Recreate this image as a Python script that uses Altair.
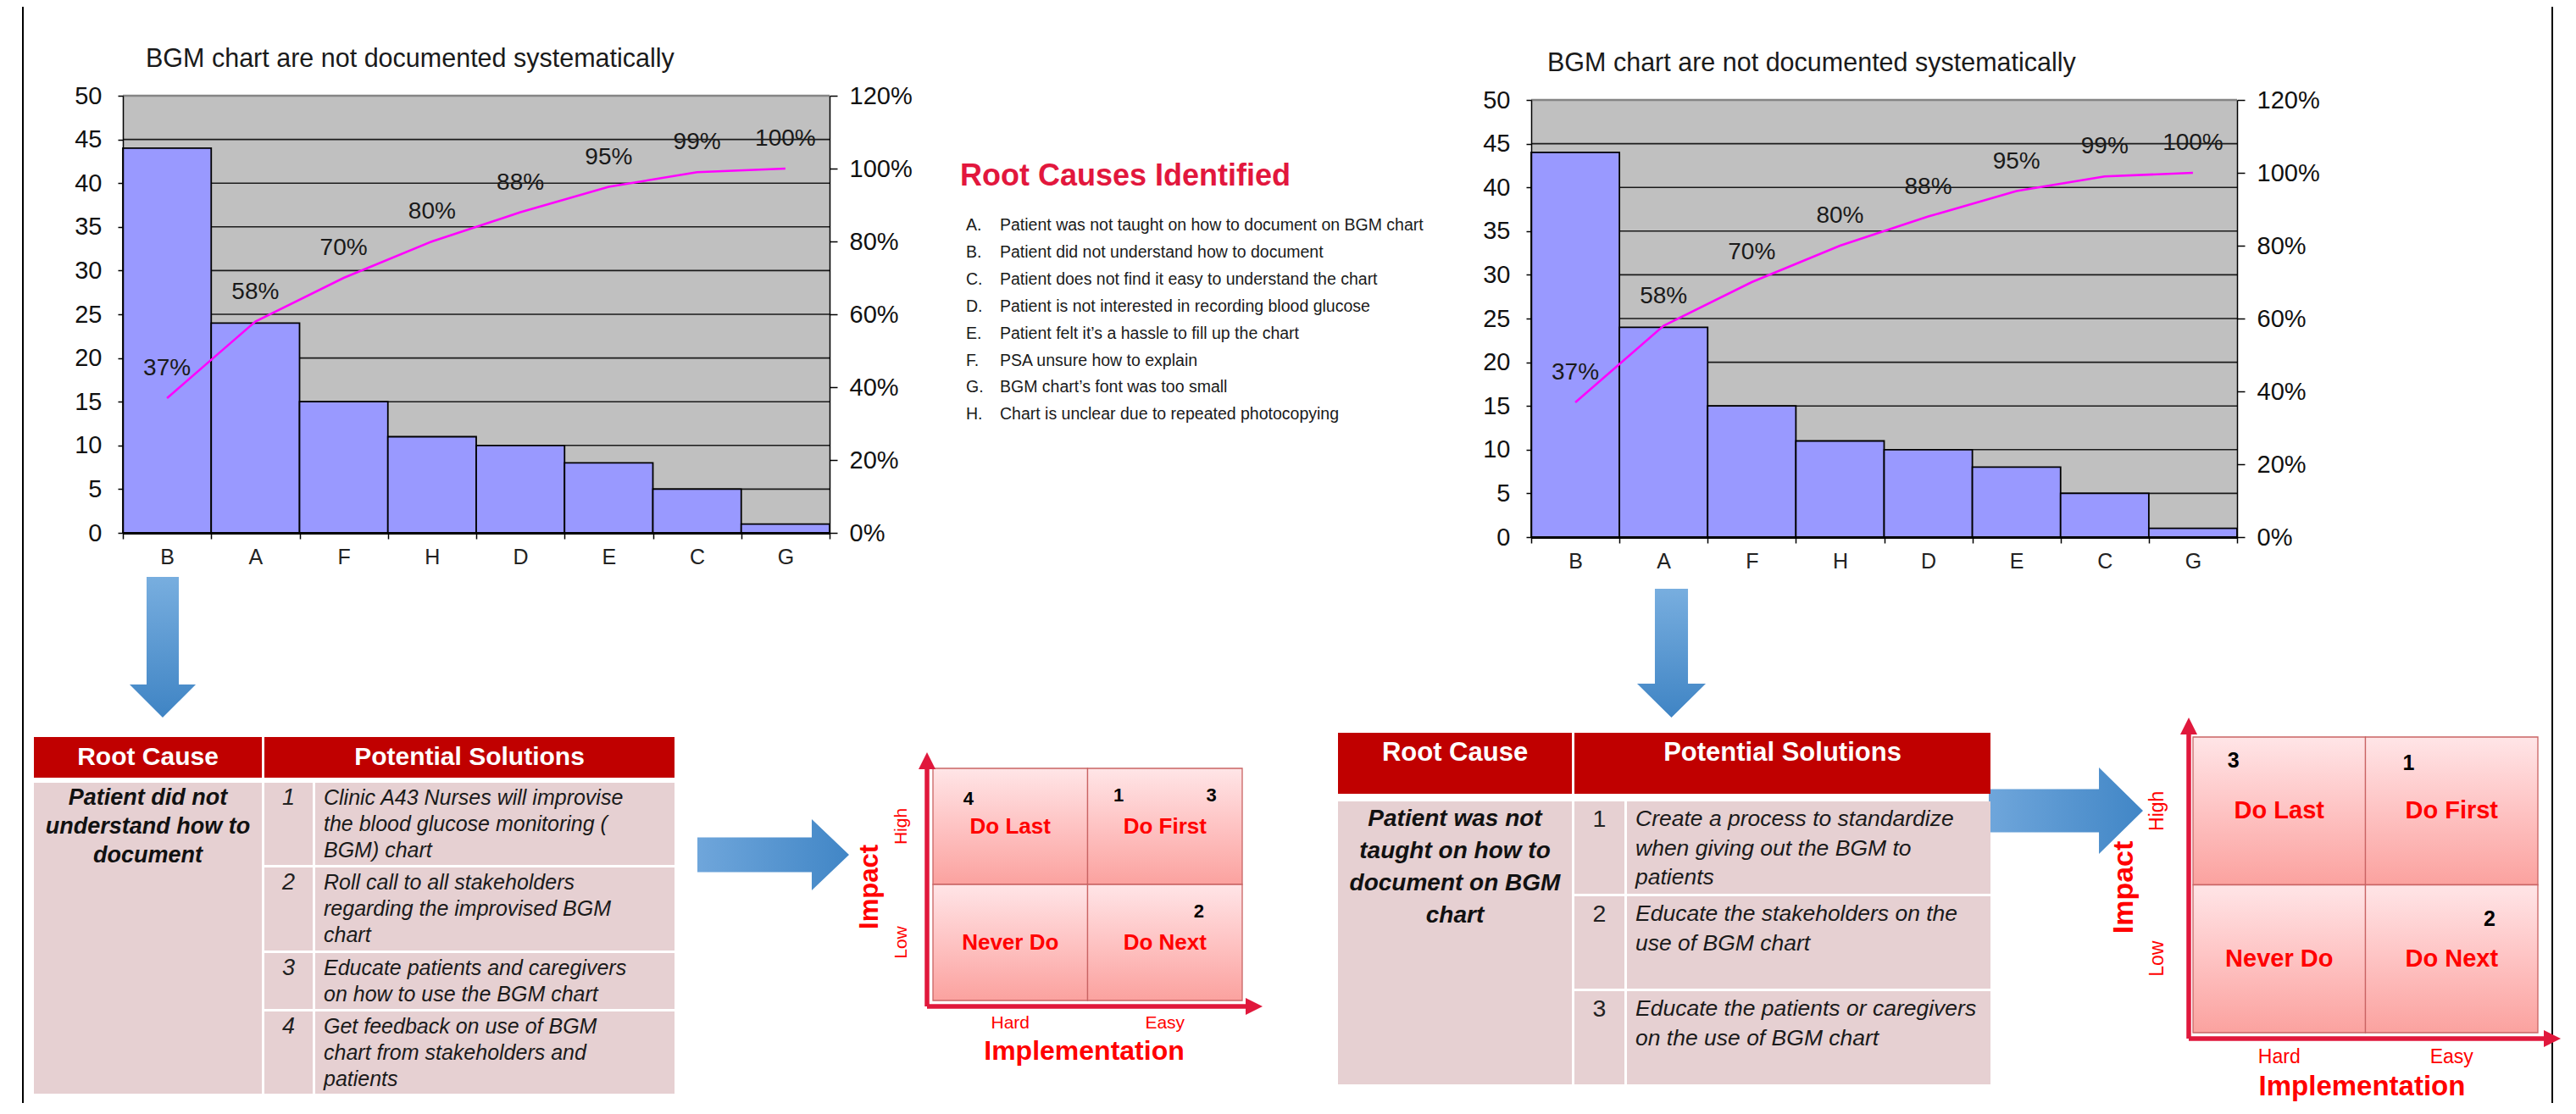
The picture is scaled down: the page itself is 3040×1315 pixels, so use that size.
import altair as alt
import pandas as pd

# ---------------- data ----------------
categories = ["B", "A", "F", "H", "D", "E", "C", "G"]
counts = [44, 24, 15, 11, 10, 8, 5, 1]
cumulative = [0.37, 0.58, 0.70, 0.80, 0.88, 0.95, 0.99, 1.00]
cumulative_labels = ["37%", "58%", "70%", "80%", "88%", "95%", "99%", "100%"]
count_ticks = [0, 5, 10, 15, 20, 25, 30, 35, 40, 45, 50]
percent_ticks = [0, 0.2, 0.4, 0.6, 0.8, 1.0, 1.2]
pareto_title = "BGM chart are not documented systematically"

causes_title = "Root Causes Identified"
cause_letters = ["A.", "B.", "C.", "D.", "E.", "F.", "G.", "H."]
cause_texts = [
    "Patient was not taught on how to document on BGM chart",
    "Patient did not understand how to document",
    "Patient does not find it easy to understand the chart",
    "Patient is not interested in recording blood glucose",
    "Patient felt it\u2019s a hassle to fill up the chart",
    "PSA unsure how to explain",
    "BGM chart\u2019s font was too small",
    "Chart is unclear due to repeated photocopying",
]

table_headers = ["Root Cause", "Potential Solutions"]
left_cause = ["Patient did not", "understand how to", "document"]
left_solutions = [
    ["Clinic A43 Nurses will improvise", "the blood glucose monitoring (", "BGM) chart"],
    ["Roll call to all stakeholders", "regarding the improvised BGM", "chart"],
    ["Educate patients and caregivers", "on how to use the BGM chart"],
    ["Get feedback on use of BGM", "chart from stakeholders and", "patients"],
]
right_cause = ["Patient was not", "taught on how to", "document on BGM", "chart"]
right_solutions = [
    ["Create a process to standardize", "when giving out the BGM to", "patients"],
    ["Educate the stakeholders on the", "use of BGM chart"],
    ["Educate the patients or caregivers", "on the use of BGM chart"],
]

quadrants = ["Do Last", "Do First", "Never Do", "Do Next"]
impact_levels = ["High", "Low"]
effort_levels = ["Hard", "Easy"]
impact_title = "Impact"
effort_title = "Implementation"
left_items = ["4", "1", "3", "2"]
left_item_quadrant = ["Do Last", "Do First", "Do First", "Do Next"]
right_items = ["3", "1", "2"]
right_item_quadrant = ["Do Last", "Do First", "Do Next"]

# ---------------- layout (page pixels) ----------------
W, H, M = 3024, 1294, 8
SANS = "Liberation Sans, Arial, sans-serif"
RED = "#FF0000"
AXRED = "#E0183C"

XS = alt.Scale(domain=[M, M + W], range=[0, W], nice=False, zero=False)
YS = alt.Scale(domain=[M, M + H], range=[0, H], nice=False, zero=False)


def X(f):
    return alt.X(f, type="quantitative", scale=XS, axis=None)


def Y(f):
    return alt.Y(f, type="quantitative", scale=YS, axis=None)


def texts(rows, **kw):
    df = pd.DataFrame(rows, columns=["x", "y", "t"])
    return alt.Chart(df).mark_text(**kw).encode(x=X("x"), y=Y("y"), text="t:N")


def rects(rows, **kw):
    df = pd.DataFrame(rows, columns=["x0", "x1", "y0", "y1"])
    return alt.Chart(df).mark_rect(**kw).encode(x=X("x0"), x2="x1", y=Y("y0"), y2="y1")


def rules(rows, **kw):
    df = pd.DataFrame(rows, columns=["x0", "x1", "y0", "y1"])
    return alt.Chart(df).mark_rule(**kw).encode(x=X("x0"), x2="x1", y=Y("y0"), y2="y1")


def symbol(x, y, path, size, **kw):
    df = pd.DataFrame({"x": [x], "y": [y]})
    return alt.Chart(df).mark_point(shape=path, size=size, filled=True, opacity=1, **kw).encode(
        x=X("x"), y=Y("y"))


def grad(c0, c1, vertical):
    return alt.LinearGradient(
        gradient="linear",
        stops=[alt.GradientStop(color=c0, offset=0), alt.GradientStop(color=c1, offset=1)],
        x1=0, y1=0, x2=0 if vertical else 1, y2=1 if vertical else 0)


def down_arrow(x0, x1, hx0, hx1, top, head, tip):
    cx = (hx0 + hx1) / 2
    cy = (top + tip) / 2
    u = (tip - top) / 2
    s = (x1 - x0) / 2 / u
    h = (hx1 - hx0) / 2 / u
    k = (head - cy) / u
    path = (f"M{-s:.3f},-1L{s:.3f},-1L{s:.3f},{k:.3f}L{h:.3f},{k:.3f}L0,1"
            f"L{-h:.3f},{k:.3f}L{-s:.3f},{k:.3f}Z")
    return symbol(cx, cy, path, (2 * u) ** 2, fill=grad("#78AEDF", "#3F84C4", True))


def right_arrow(left, head, tip, sy0, sy1, hy0, hy1):
    cx = (left + tip) / 2
    cy = (hy0 + hy1) / 2
    u = (tip - left) / 2
    s = (sy1 - sy0) / 2 / u
    h = (hy1 - hy0) / 2 / u
    k = (head - cx) / u
    path = (f"M-1,{-s:.3f}L{k:.3f},{-s:.3f}L{k:.3f},{-h:.3f}L1,0L{k:.3f},{h:.3f}"
            f"L{k:.3f},{s:.3f}L-1,{s:.3f}Z")
    return symbol(cx, cy, path, (2 * u) ** 2, fill=grad("#6FA6DB", "#4186C6", False))


def pareto(x0, x1, y0, y1, tx, ty):
    df = pd.DataFrame({"cat": categories, "n": counts, "cum": cumulative, "lab": cumulative_labels})
    xsc = alt.Scale(domain=categories, range=[x0 - M, x1 - M], paddingInner=0, paddingOuter=0)
    ysn = alt.Scale(domain=[0, 50], range=[y1 - M, y0 - M], nice=False, zero=False)
    ysp = alt.Scale(domain=[0, 1.2], range=[y1 - M, y0 - M], nice=False, zero=False)
    out = [rects([(x0, x1, y0, y1)], color="#C0C0C0")]
    gdf = pd.DataFrame({"v": count_ticks[1:-1]})
    gdf["x0"] = x0
    gdf["x1"] = x1
    out.append(alt.Chart(gdf).mark_rule(color="#1a1a1a", strokeWidth=1.6).encode(
        x=X("x0"), x2="x1", y=alt.Y("v:Q", scale=ysn, axis=None)))
    out.append(rules([(x0, x1, y0, y0)], color="#858585", strokeWidth=2.5))
    out.append(alt.Chart(df).mark_bar(color="#9999FF", stroke="#000000", strokeWidth=1.8).encode(
        x=alt.X("cat:N", sort=categories, scale=xsc,
                axis=alt.Axis(orient="bottom", offset=-(H - (y1 - M)), title=None, labelAngle=0,
                              tickBand="extent", domainColor="#000", domainWidth=3, tickColor="#000",
                              tickWidth=1.5, tickSize=7, labelFont=SANS, labelFontSize=25,
                              labelColor="#222", labelPadding=9, zindex=1, grid=False)),
        y=alt.Y("n:Q", scale=ysn,
                axis=alt.Axis(orient="left", offset=-(x0 - M), values=count_ticks, title=None,
                              grid=False, domainColor="#000", domainWidth=1.5, tickColor="#000",
                              tickWidth=1.5, tickSize=6, labelFont=SANS, labelFontSize=29,
                              labelColor="#111", labelPadding=19, zindex=1))))
    out.append(alt.Chart(df).mark_line(color="#FF00FF", strokeWidth=2.6).encode(
        x=alt.X("cat:N", sort=categories, scale=xsc, axis=None),
        y=alt.Y("cum:Q", scale=ysp,
                axis=alt.Axis(orient="right", offset=-(W - (x1 - M)), values=percent_ticks,
                              format=".0%", title=None, grid=False, domainColor="#000",
                              domainWidth=1.5, tickColor="#000", tickWidth=1.5, tickSize=9,
                              labelFont=SANS, labelFontSize=29, labelColor="#111",
                              labelPadding=14, zindex=1))))
    out.append(alt.Chart(df).mark_text(dy=-35, font=SANS, fontSize=28, color="#1a1a1a").encode(
        x=alt.X("cat:N", sort=categories, scale=xsc, axis=None),
        y=alt.Y("cum:Q", scale=ysp, axis=None), text="lab:N"))
    out.append(texts([(tx, ty, pareto_title)], align="left", font=SANS, fontSize=30.5, color="#1a1a1a"))
    return out


def table(cx0, cx1, nx1, tx0, tx1, hy0, hy1, rows, cause, cause_y, cause_dy, sols, sol_dy,
          first_pad, hsize, csize, ssize, num_italic):
    out = [rects([(cx0, cx1, hy0, hy1), (cx1 + 3, tx1, hy0, hy1)], color="#C00000")]
    cells = [(cx0, cx1, rows[0][0], rows[-1][1])]
    for r0, r1 in rows:
        cells.append((cx1 + 3, nx1, r0, r1))
        cells.append((tx0, tx1, r0, r1))
    out.append(rects(cells, color="#E6D0D2"))
    hy = hy0 + min(24, (hy1 - hy0) / 2)
    out.append(texts([((cx0 + cx1) / 2, hy, table_headers[0]),
                      ((cx1 + 3 + tx1) / 2, hy, table_headers[1])],
                     font=SANS, fontSize=hsize, fontWeight="bold", color="#FFFFFF"))
    out.append(texts([((cx0 + cx1) / 2, cause_y + i * cause_dy, s) for i, s in enumerate(cause)],
                     font=SANS, fontSize=csize, fontWeight="bold", fontStyle="italic", color="#111"))
    nums, lines = [], []
    for i, ((r0, r1), sol) in enumerate(zip(rows, sols)):
        y = r0 + first_pad
        nums.append(((cx1 + 3 + nx1) / 2, y, str(i + 1)))
        for j, s in enumerate(sol):
            lines.append((tx0 + 10, y + j * sol_dy, s))
    out.append(texts(nums, font=SANS, fontSize=ssize + 2, color="#222",
                     fontStyle="italic" if num_italic else "normal"))
    out.append(texts(lines, align="left", font=SANS, fontSize=ssize, fontStyle="italic", color="#1a1a1a"))
    return out


def matrix(gx0, gx1, gy0, gy1, ax, ay, ytip, xtip, items, item_quads, item_pos, fonts,
           hl_x, imp_x, he_y, impl_y):
    qsize, nsize, lsize, isize, tsize = fonts
    mx = (gx0 + gx1) / 2
    my = (gy0 + gy1) / 2
    cells = [(gx0, mx, gy0, my), (mx, gx1, gy0, my), (gx0, mx, my, gy1), (mx, gx1, my, gy1)]
    cell_grad = alt.LinearGradient(
        gradient="linear",
        stops=[alt.GradientStop(color="#FFE5E7", offset=0), alt.GradientStop(color="#FEC3C3", offset=0.5),
               alt.GradientStop(color="#FBA29F", offset=1)],
        x1=0, y1=0, x2=0, y2=1)
    out = [rects(cells, fill=cell_grad, stroke="#C96464", strokeWidth=1.3)]
    out.append(rules([(ax, ax, ay, ytip + 14), (ax, xtip - 14, ay, ay)], color=AXRED, strokeWidth=5.5))
    out.append(symbol(ax, ytip + 9, "M0,-1L1,1L-1,1Z", 400, fill=AXRED))
    out.append(symbol(xtip - 9, ay, "M1,0L-1,-1L-1,1Z", 400, fill=AXRED))
    out.append(texts([((c[0] + c[1]) / 2, (c[2] + c[3]) / 2, q) for c, q in zip(cells, quadrants)],
                     font=SANS, fontSize=qsize, fontWeight="bold", color=RED))
    nrows = []
    for it, q, (fx, fy) in zip(items, item_quads, item_pos):
        c = cells[quadrants.index(q)]
        nrows.append((c[0] + fx * (c[1] - c[0]), c[2] + fy * (c[3] - c[2]), it))
    out.append(texts(nrows, font=SANS, fontSize=nsize, fontWeight="bold", color="#000"))
    out.append(texts([(hl_x, (gy0 + my) / 2, impact_levels[0]), (hl_x, (my + gy1) / 2, impact_levels[1])],
                     font=SANS, fontSize=lsize, color=RED, angle=270))
    out.append(texts([(imp_x, my + 3, impact_title)], font=SANS, fontSize=isize, fontWeight="bold",
                     color=RED, angle=270))
    out.append(texts([((gx0 + mx) / 2, he_y, effort_levels[0]), ((mx + gx1) / 2, he_y, effort_levels[1])],
                     font=SANS, fontSize=lsize, color=RED))
    out.append(texts([(mx - 4, impl_y, effort_title)], font=SANS, fontSize=tsize, fontWeight="bold", color=RED))
    return out


layers = []
# page border lines
layers.append(rules([(27, 27, M, M + H), (3012, 3012, M, M + H)], color="#000", strokeWidth=2))

# Pareto charts
layers += pareto(145, 979, 113, 629, 172, 70)
layers += pareto(1807, 2640, 118, 634, 1826, 75)

# root causes list
layers.append(texts([(1133, 208, causes_title)], align="left", font=SANS, fontSize=36,
                    fontWeight="bold", color="#E2173D"))
layers.append(texts([(1140, 266 + i * 31.9, s) for i, s in enumerate(cause_letters)], align="left",
                    font=SANS, fontSize=19.5, color="#1a1a1a"))
layers.append(texts([(1180, 266 + i * 31.9, s) for i, s in enumerate(cause_texts)], align="left",
                    font=SANS, fontSize=19.5, color="#1a1a1a"))

# arrows
layers.append(down_arrow(173, 211, 153, 231, 681, 808, 847))
layers.append(down_arrow(1953, 1992, 1932, 2013, 695, 807, 847))
layers.append(right_arrow(823, 958, 1002, 989, 1030, 967, 1051))
layers.append(right_arrow(2347, 2477, 2529, 932, 983, 906, 1008))

# tables
layers += table(40, 309, 369, 372, 796, 870, 918,
                [(924, 1021), (1024, 1122), (1125, 1191), (1194, 1291)],
                left_cause, 942, 34, left_solutions, 31, 18, 30, 27, 25, True)
layers += table(1579, 1855, 1917, 1920, 2349, 865, 937,
                [(946, 1055), (1058, 1167), (1170, 1280)],
                right_cause, 967, 38, right_solutions, 34.5, 21, 31, 28, 26.5, False)

# prioritisation matrices
layers += matrix(1101, 1466, 907, 1181, 1094, 1188, 889, 1489, left_items, left_item_quadrant,
                 [(0.23, 0.26), (0.2, 0.23), (0.8, 0.23), (0.72, 0.23)], (26, 22, 21, 31, 32),
                 1064, 1027, 1208, 1241)
layers += matrix(2588, 2995, 870, 1219, 2583, 1226, 848, 3021, right_items, right_item_quadrant,
                 [(0.235, 0.16), (0.25, 0.18), (0.72, 0.23)], (29, 25, 23, 34, 33),
                 2546, 2507, 1248, 1283)

chart = alt.layer(*layers).resolve_scale(x="independent", y="independent").properties(
    width=W, height=H, padding=0, autosize=alt.AutoSizeParams(type="none"),
    background="#FFFFFF").configure_view(strokeWidth=0)

chart.save("out.html", embed_options={"renderer": "svg", "actions": False})
